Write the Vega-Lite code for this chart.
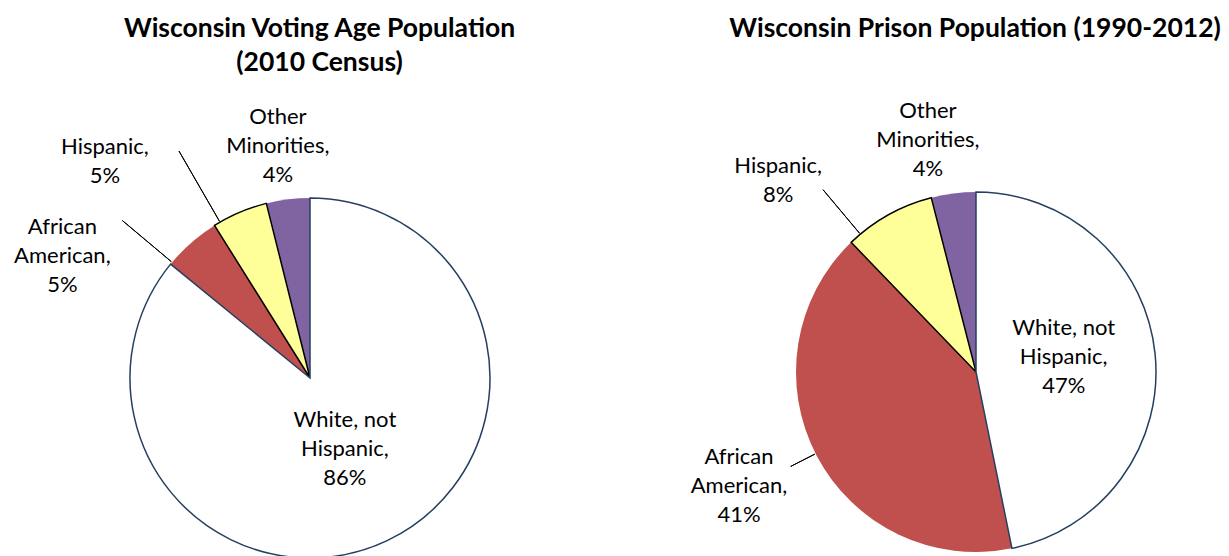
{
  "$schema": "https://vega.github.io/schema/vega-lite/v6.json",
  "width": 1229,
  "height": 556,
  "autosize": {"type": "fit", "contains": "padding"},
  "padding": 0,
  "background": "white",
  "config": {"view": {"stroke": null}, "font": "Lato"},
  "encoding": {
    "x": {"field": "chart", "type": "nominal", "scale": {"type": "point", "domain": ["voting", "prison"], "range": [310, 976], "padding": 0}, "axis": null},
    "y": {"field": "chart", "type": "nominal", "scale": {"type": "point", "domain": ["voting", "prison"], "range": [378, 372], "padding": 0}, "axis": null}
  },
  "layer": [
    {
      "data": {"values": [
        {"chart": "voting", "category": "African American", "value": 5.2, "rank": 2, "label": "African\nAmerican,\n5%"},
        {"chart": "voting", "category": "Other Minorities", "value": 3.9, "rank": 4, "label": "Other\nMinorities,\n4%"},
        {"chart": "voting", "category": "Hispanic", "value": 5.0, "rank": 3, "label": "Hispanic,\n5%"},
        {"chart": "voting", "category": "White, not Hispanic", "value": 85.9, "rank": 1, "label": "White, not\nHispanic,\n86%"},
        {"chart": "prison", "category": "African American", "value": 41.0, "rank": 2, "label": "African\nAmerican,\n41%"},
        {"chart": "prison", "category": "Other Minorities", "value": 4.0, "rank": 4, "label": "Other\nMinorities,\n4%"},
        {"chart": "prison", "category": "Hispanic", "value": 8.2, "rank": 3, "label": "Hispanic,\n8%"},
        {"chart": "prison", "category": "White, not Hispanic", "value": 46.8, "rank": 1, "label": "White, not\nHispanic,\n47%"}
      ]},
      "transform": [
        {"stack": "value", "groupby": ["chart"], "sort": [{"field": "rank", "order": "ascending"}], "as": ["v0", "v1"]}
      ],
      "layer": [
        {
          "mark": {"type": "arc", "radius": 180, "strokeWidth": 1.5},
          "encoding": {
            "theta": {"field": "v0", "type": "quantitative", "stack": null, "scale": {"domain": [0, 100]}},
            "theta2": {"field": "v1"},
            "color": {"field": "category", "type": "nominal", "legend": null, "scale": {"domain": ["White, not Hispanic", "African American", "Hispanic", "Other Minorities"], "range": ["#FFFFFF", "#C0504D", "#FFFF99", "#8064A2"]}},
            "stroke": {"field": "category", "type": "nominal", "legend": null, "scale": {"domain": ["White, not Hispanic", "African American", "Hispanic", "Other Minorities"], "range": ["#243F60", "transparent", "#000000", "transparent"]}}
          }
        },
        {
          "transform": [{"filter": "datum.chart === 'voting' && datum.category === 'African American'"}],
          "mark": {"type": "arc", "filled": false, "stroke": "#000000", "strokeWidth": 1, "radius": 245, "radius2": 181, "thetaOffset": 0.0133, "theta2Offset": 0.0133},
          "encoding": {"theta": {"field": "v0", "type": "quantitative", "stack": null, "scale": {"domain": [0, 100]}}, "theta2": {"field": "v0"}}
        },
        {
          "transform": [{"filter": "datum.chart === 'voting' && datum.category === 'Hispanic'"}],
          "mark": {"type": "arc", "filled": false, "stroke": "#000000", "strokeWidth": 1, "radius": 262, "radius2": 181, "thetaOffset": 0.0356, "theta2Offset": 0.0356},
          "encoding": {"theta": {"field": "v0", "type": "quantitative", "stack": null, "scale": {"domain": [0, 100]}}, "theta2": {"field": "v0"}}
        },
        {
          "transform": [{"filter": "datum.chart === 'prison' && datum.category === 'Hispanic'"}],
          "mark": {"type": "arc", "filled": false, "stroke": "#000000", "strokeWidth": 1, "radius": 238, "radius2": 181, "thetaOffset": 0.0684, "theta2Offset": 0.0684},
          "encoding": {"theta": {"field": "v0", "type": "quantitative", "stack": null, "scale": {"domain": [0, 100]}}, "theta2": {"field": "v0"}}
        },
        {
          "transform": [{"filter": "datum.chart === 'prison' && datum.category === 'African American'"}],
          "mark": {"type": "arc", "filled": false, "stroke": "#000000", "strokeWidth": 1, "radius": 208, "radius2": 181, "thetaOffset": 1.3006, "theta2Offset": 1.3006},
          "encoding": {"theta": {"field": "v0", "type": "quantitative", "stack": null, "scale": {"domain": [0, 100]}}, "theta2": {"field": "v0"}}
        },
        {
          "transform": [{"filter": "datum.chart === 'voting' && datum.category === 'White, not Hispanic'"}],
          "mark": {"type": "text", "radius": 79, "thetaOffset": 2.684, "dy": -29, "fontSize": 22, "lineHeight": 29, "lineBreak": "\n", "align": "center", "baseline": "middle", "color": "#000000"},
          "encoding": {"theta": {"field": "v0", "type": "quantitative", "stack": null, "scale": {"domain": [0, 100]}}, "text": {"field": "label"}}
        },
        {
          "transform": [{"filter": "datum.chart === 'voting' && datum.category === 'African American'"}],
          "mark": {"type": "text", "radius": 276, "thetaOffset": -0.2276, "dy": -29, "fontSize": 22, "lineHeight": 29, "lineBreak": "\n", "align": "center", "baseline": "middle", "color": "#000000"},
          "encoding": {"theta": {"field": "v0", "type": "quantitative", "stack": null, "scale": {"domain": [0, 100]}}, "text": {"field": "label"}}
        },
        {
          "transform": [{"filter": "datum.chart === 'voting' && datum.category === 'Hispanic'"}],
          "mark": {"type": "text", "radius": 298, "thetaOffset": -0.2, "dy": -14.5, "fontSize": 22, "lineHeight": 29, "lineBreak": "\n", "align": "center", "baseline": "middle", "color": "#000000"},
          "encoding": {"theta": {"field": "v0", "type": "quantitative", "stack": null, "scale": {"domain": [0, 100]}}, "text": {"field": "label"}}
        },
        {
          "transform": [{"filter": "datum.chart === 'voting' && datum.category === 'Other Minorities'"}],
          "mark": {"type": "text", "radius": 234, "thetaOffset": 0.1072, "dy": -29, "fontSize": 22, "lineHeight": 29, "lineBreak": "\n", "align": "center", "baseline": "middle", "color": "#000000"},
          "encoding": {"theta": {"field": "v0", "type": "quantitative", "stack": null, "scale": {"domain": [0, 100]}}, "text": {"field": "label"}}
        },
        {
          "transform": [{"filter": "datum.chart === 'prison' && datum.category === 'White, not Hispanic'"}],
          "mark": {"type": "text", "radius": 89, "thetaOffset": 1.4015, "dy": -29, "fontSize": 22, "lineHeight": 29, "lineBreak": "\n", "align": "center", "baseline": "middle", "color": "#000000"},
          "encoding": {"theta": {"field": "v0", "type": "quantitative", "stack": null, "scale": {"domain": [0, 100]}}, "text": {"field": "label"}}
        },
        {
          "transform": [{"filter": "datum.chart === 'prison' && datum.category === 'African American'"}],
          "mark": {"type": "text", "radius": 263, "thetaOffset": 1.3233, "dy": -29, "fontSize": 22, "lineHeight": 29, "lineBreak": "\n", "align": "center", "baseline": "middle", "color": "#000000"},
          "encoding": {"theta": {"field": "v0", "type": "quantitative", "stack": null, "scale": {"domain": [0, 100]}}, "text": {"field": "label"}}
        },
        {
          "transform": [{"filter": "datum.chart === 'prison' && datum.category === 'Hispanic'"}],
          "mark": {"type": "text", "radius": 275, "thetaOffset": -0.0363, "dy": -14.5, "fontSize": 22, "lineHeight": 29, "lineBreak": "\n", "align": "center", "baseline": "middle", "color": "#000000"},
          "encoding": {"theta": {"field": "v0", "type": "quantitative", "stack": null, "scale": {"domain": [0, 100]}}, "text": {"field": "label"}}
        },
        {
          "transform": [{"filter": "datum.chart === 'prison' && datum.category === 'Other Minorities'"}],
          "mark": {"type": "text", "radius": 237, "thetaOffset": 0.0471, "dy": -29, "fontSize": 22, "lineHeight": 29, "lineBreak": "\n", "align": "center", "baseline": "middle", "color": "#000000"},
          "encoding": {"theta": {"field": "v0", "type": "quantitative", "stack": null, "scale": {"domain": [0, 100]}}, "text": {"field": "label"}}
        }
      ]
    },
    {
      "data": {"values": [{"chart": "voting", "title": "Wisconsin Voting Age Population\n(2010 Census)"}]},
      "mark": {"type": "text", "fontSize": 26.5, "fontWeight": "bold", "lineHeight": 34, "lineBreak": "\n", "align": "center", "baseline": "alphabetic", "dx": 9.5, "dy": -341, "color": "#000000"},
      "encoding": {"text": {"field": "title"}}
    },
    {
      "data": {"values": [{"chart": "prison", "title": "Wisconsin Prison Population (1990-2012)"}]},
      "mark": {"type": "text", "fontSize": 26.5, "fontWeight": "bold", "lineHeight": 34, "lineBreak": "\n", "align": "center", "baseline": "alphabetic", "dx": -1, "dy": -335, "color": "#000000"},
      "encoding": {"text": {"field": "title"}}
    }
  ]
}
